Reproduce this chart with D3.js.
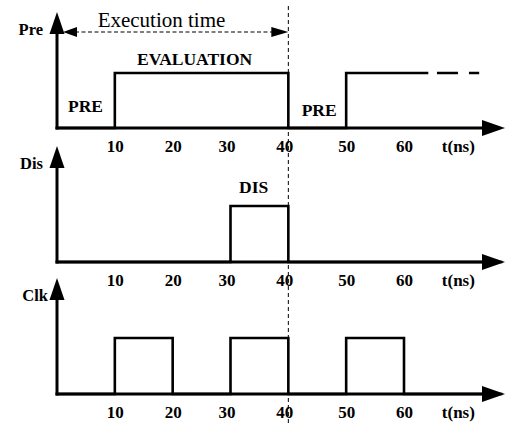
<!DOCTYPE html>
<html>
<head>
<meta charset="utf-8">
<script src="https://cdn.jsdelivr.net/npm/d3@7"></script>
<style>
  html, body { margin: 0; padding: 0; background: #fff; }
  svg { display: block; }
  text { font-family: "Liberation Serif", "Times New Roman", serif; fill: #000; }
</style>
</head>
<body>
<svg id="chart" width="508" height="423"></svg>
<script>
// Time ticks (ns) shown under each trace
const tickValues = [10, 20, 30, 40, 50, 60];
const tickLabels = ["10", "20", "30", "40", "50", "60"];
const unitLabel = "t(ns)";

// Signal names
const signalNames = ["Pre", "Dis", "Clk"];

// Waveforms as [time, level] steps (level 0 = low, 1 = high)
const preSteps = [[0, 0], [10, 1], [40, 0], [50, 1], [64.2, 1]];
const preContinued = [[65.7, 1], [73, 1]];
const disSteps = [[0, 0], [30, 1], [40, 0], [77, 0]];
const clkSteps = [[0, 0], [10, 1], [20, 0], [30, 1], [40, 0], [50, 1], [60, 0], [77, 0]];

// Phase annotations
const phaseLabels = [
  { panel: 0, text: "PRE", t: 1.9, dy: -16, anchor: "start" },
  { panel: 0, text: "EVALUATION", t: 23.8, dy: -63, anchor: "middle" },
  { panel: 0, text: "PRE", t: 42.3, dy: -12, anchor: "start" },
  { panel: 1, text: "DIS", t: 34.0, dy: -69, anchor: "middle" }
];
const executionEnd = 40;
const executionLabel = "Execution time";

const svg = d3.select("#chart");

const x = d3.scaleLinear().domain([0, 60]).range([57, 404]);
const axisEnd = 505;

// One lane per signal: baseline and high-level y
const panels = [
  { name: signalNames[0], base: 128, high: 73, steps: preSteps },
  { name: signalNames[1], base: 262, high: 206, steps: disSteps },
  { name: signalNames[2], base: 394, high: 338, steps: clkSteps }
];
panels.forEach(p => { p.y = d3.scaleLinear().domain([0, 1]).range([p.base, p.high]); });

// Dashed marker at the end of the execution window
svg.append("line")
  .attr("x1", x(executionEnd)).attr("x2", x(executionEnd))
  .attr("y1", 6).attr("y2", 423)
  .attr("stroke", "#000").attr("stroke-width", 1)
  .attr("stroke-dasharray", "4,3");

panels.forEach((p, i) => {
  const g = svg.append("g");
  const x0 = x(0);

  // waveform
  const line = d3.line().x(d => x(d[0])).y(d => p.y(d[1])).curve(d3.curveStepAfter);
  g.append("path")
    .attr("d", line(p.steps))
    .attr("fill", "none").attr("stroke", "#000")
    .attr("stroke-width", 2.6).attr("stroke-linejoin", "miter");

  if (i === 0) {
    g.append("path")
      .attr("d", d3.line().x(d => x(d[0])).y(d => p.y(d[1]))(preContinued))
      .attr("fill", "none").attr("stroke", "#000")
      .attr("stroke-width", 2.6).attr("stroke-dasharray", "21,11");
  }

  // time axis with arrow
  g.append("line")
    .attr("x1", x0 - 1.5).attr("x2", axisEnd - 20)
    .attr("y1", p.base).attr("y2", p.base)
    .attr("stroke", "#000").attr("stroke-width", 3);
  g.append("path")
    .attr("d", `M${axisEnd},${p.base} L${axisEnd - 23},${p.base - 8} L${axisEnd - 23},${p.base + 8} Z`)
    .attr("fill", "#000");

  // signal axis with arrow
  const tipY = p.base - 116;
  g.append("line")
    .attr("x1", x0).attr("x2", x0)
    .attr("y1", p.base + 1.5).attr("y2", tipY + 18)
    .attr("stroke", "#000").attr("stroke-width", 3);
  g.append("path")
    .attr("d", `M${x0},${tipY} L${x0 - 7.5},${tipY + 22} L${x0 + 7.5},${tipY + 22} Z`)
    .attr("fill", "#000");

  // signal name
  g.append("text")
    .attr("x", i === 2 ? 48 : 43).attr("y", tipY + 23)
    .attr("text-anchor", "end")
    .attr("font-size", 16.5).attr("font-weight", "bold")
    .text(p.name);

  // tick labels via d3 axis
  const axis = d3.axisBottom(x)
    .tickValues(tickValues)
    .tickFormat((d, k) => tickLabels[k])
    .tickSize(0);
  const ag = g.append("g").attr("transform", `translate(0,${p.base})`).call(axis);
  ag.select(".domain").remove();
  ag.selectAll("text")
    .attr("y", 24).attr("dy", null)
    .attr("font-size", 17).attr("font-weight", "bold")
    .attr("font-family", "Liberation Serif, serif")
    .attr("dx", d => (d === 30 ? -4 : d === 40 ? -4 : 0));

  g.append("text")
    .attr("x", x(69.4)).attr("y", p.base + 24)
    .attr("text-anchor", "middle")
    .attr("font-size", 17).attr("font-weight", "bold")
    .text(unitLabel);
});

// Phase labels
phaseLabels.forEach(l => {
  const p = panels[l.panel];
  svg.append("text")
    .attr("x", x(l.t)).attr("y", p.base + l.dy)
    .attr("text-anchor", l.anchor)
    .attr("font-size", 17.5).attr("font-weight", "bold")
    .text(l.text);
});

// Execution-time span arrow
const spanY = 32;
const sx0 = x(0) + 6, sx1 = x(executionEnd);
svg.append("line")
  .attr("x1", sx0 + 12).attr("x2", sx1 - 14)
  .attr("y1", spanY).attr("y2", spanY)
  .attr("stroke", "#000").attr("stroke-width", 1.2)
  .attr("stroke-dasharray", "4,2.5");
svg.append("path")
  .attr("d", `M${sx0},${spanY} L${sx0 + 14},${spanY - 5} L${sx0 + 14},${spanY + 5} Z`)
  .attr("fill", "#000");
svg.append("path")
  .attr("d", `M${sx1},${spanY} L${sx1 - 17},${spanY - 5} L${sx1 - 17},${spanY + 5} Z`)
  .attr("fill", "#000");
svg.append("text")
  .attr("x", 161.5).attr("y", 27)
  .attr("text-anchor", "middle")
  .attr("font-size", 21)
  .text(executionLabel);
</script>
</body>
</html>
